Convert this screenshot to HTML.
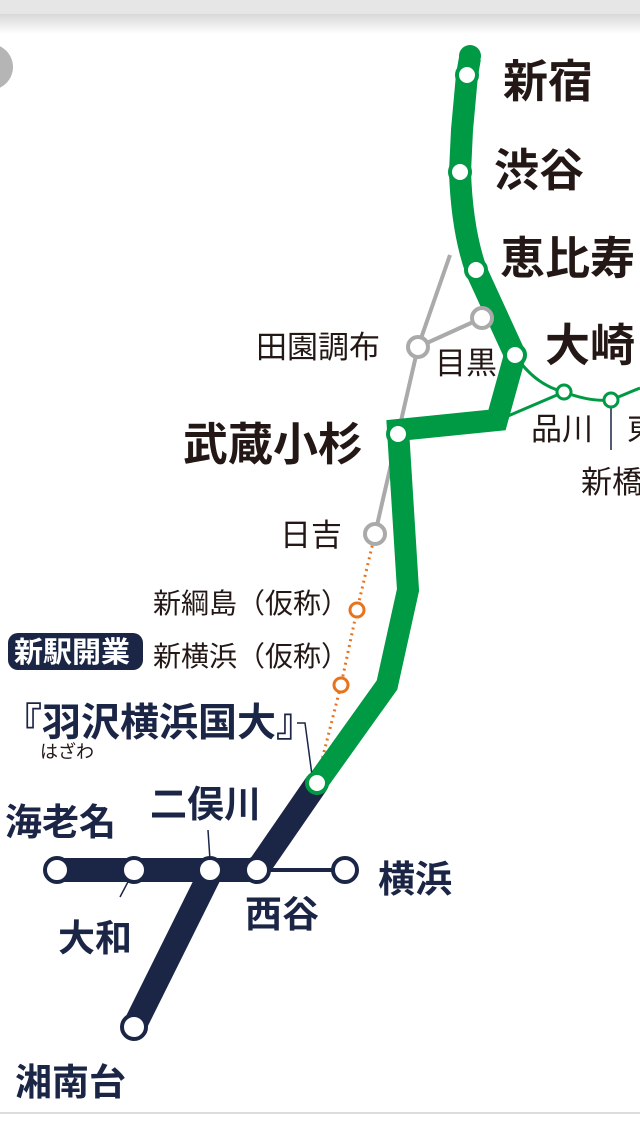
<!DOCTYPE html>
<html><head><meta charset="utf-8"><style>
html,body{margin:0;padding:0;background:#fff;width:640px;height:1137px;overflow:hidden}
svg text{font-family:"Liberation Sans","Noto Sans CJK JP",sans-serif;fill:#231815}
</style></head><body>
<svg width="640" height="1137" viewBox="0 0 640 1137" xmlns="http://www.w3.org/2000/svg">
<defs><linearGradient id="tg" x1="0" y1="0" x2="0" y2="1"><stop offset="0" stop-color="#d8d8d8"/><stop offset="1" stop-color="#fff"/></linearGradient></defs>
<rect x="0" y="0" width="640" height="14" fill="#e6e6e6"/>
<rect x="0" y="14" width="640" height="20" fill="url(#tg)"/>
<circle cx="-10" cy="67" r="23" fill="#b5b5b5"/>
<line x1="0" y1="1113" x2="640" y2="1113" stroke="#ddd" stroke-width="2"/>
<polyline points="450,255 418,347 375,534" fill="none" stroke="#aaa" stroke-width="4"/>
<line x1="418" y1="347" x2="482" y2="318" stroke="#aaa" stroke-width="4"/>
<path d="M515,355 Q535,385 564,392 Q590,402 611,400 L640,388" fill="none" stroke="#009944" stroke-width="3"/>
<line x1="508" y1="416" x2="564" y2="392" stroke="#009944" stroke-width="3"/>
<line x1="611" y1="400" x2="611" y2="450" stroke="#1b2545" stroke-width="1.5"/>
<polyline points="375,534 357,610 341,685 322,760" fill="none" stroke="#e8731d" stroke-width="3" stroke-dasharray="2,4"/>
<path d="M470,58 L467,75 L462,130 L460,172 Q462,230 476,270 L515,355 L497,420 L398,430 L408,590 L387,685 L317,783" fill="none" stroke="#009944" stroke-width="22" stroke-linejoin="miter"/>
<circle cx="470" cy="56" r="11" fill="#009944"/>
<polyline points="317,783 257,870" fill="none" stroke="#1b2545" stroke-width="24"/>
<line x1="57" y1="870" x2="260" y2="870" stroke="#1b2545" stroke-width="24"/>
<line x1="214" y1="866" x2="134" y2="1027" stroke="#1b2545" stroke-width="24"/>
<line x1="257" y1="870" x2="345" y2="870" stroke="#1b2545" stroke-width="4"/>
<line x1="120" y1="897" x2="130" y2="878" stroke="#1b2545" stroke-width="1.5"/>
<line x1="208" y1="830" x2="210" y2="860" stroke="#1b2545" stroke-width="1.5"/>
<polyline points="297,723 305,723 312,775" fill="none" stroke="#1b2545" stroke-width="1.5"/>
<g fill="#fff" stroke="#009944" stroke-width="4">
<circle cx="467" cy="75" r="10"/><circle cx="460" cy="172" r="10"/><circle cx="476" cy="270" r="10"/><circle cx="515" cy="355" r="10"/><circle cx="398" cy="434" r="10"/><circle cx="317" cy="783" r="10"/>
<circle cx="564" cy="392" r="7" stroke-width="3"/><circle cx="611" cy="400" r="7" stroke-width="3"/>
</g>
<g fill="#fff" stroke="#aaa" stroke-width="4"><circle cx="418" cy="347" r="10"/><circle cx="482" cy="318" r="10"/><circle cx="375" cy="534" r="10"/></g>
<g fill="#fff" stroke="#e8731d" stroke-width="3"><circle cx="357" cy="610" r="7"/><circle cx="341" cy="685" r="7"/></g>
<g fill="#fff" stroke="#1b2545" stroke-width="4"><circle cx="57" cy="870" r="12"/><circle cx="134" cy="870" r="12"/><circle cx="210" cy="870" r="12"/><circle cx="257" cy="870" r="12"/><circle cx="345" cy="870" r="12"/><circle cx="134" cy="1027" r="12"/></g>
<g font-weight="bold" font-size="45">
<text x="503" y="97">新宿</text><text x="494" y="186">渋谷</text><text x="500" y="274">恵比寿</text><text x="545" y="361">大崎</text><text x="183" y="460">武蔵小杉</text>
</g>
<g font-size="31">
<text x="256" y="358">田園調布</text><text x="435" y="374">目黒</text><text x="531" y="440">品川</text><text x="581" y="493">新橋</text><text x="627" y="440">東</text><text x="280" y="546">日吉</text>
</g>
<g font-size="28">
<text x="153" y="613">新綱島（仮称）</text><text x="153" y="666">新横浜（仮称）</text>
</g>
<rect x="8" y="633" width="135" height="37" rx="10" fill="#1b2545"/>
<text x="14" y="662" font-size="29" font-weight="bold" style="fill:#fff">新駅開業</text>
<text x="3" y="736" font-size="39" font-weight="bold" style="fill:#1b2545">『羽沢横浜国大』</text>
<text x="40" y="758" font-size="18">はざわ</text>
<g font-size="37" font-weight="bold">
<text x="5" y="835" style="fill:#1b2545">海老名</text><text x="150" y="817" style="fill:#1b2545">二俣川</text><text x="58" y="951" style="fill:#1b2545">大和</text><text x="245" y="927" style="fill:#1b2545">西谷</text><text x="378" y="892" style="fill:#1b2545">横浜</text><text x="15" y="1095" style="fill:#1b2545">湘南台</text>
</g>
</svg>
</body></html>
